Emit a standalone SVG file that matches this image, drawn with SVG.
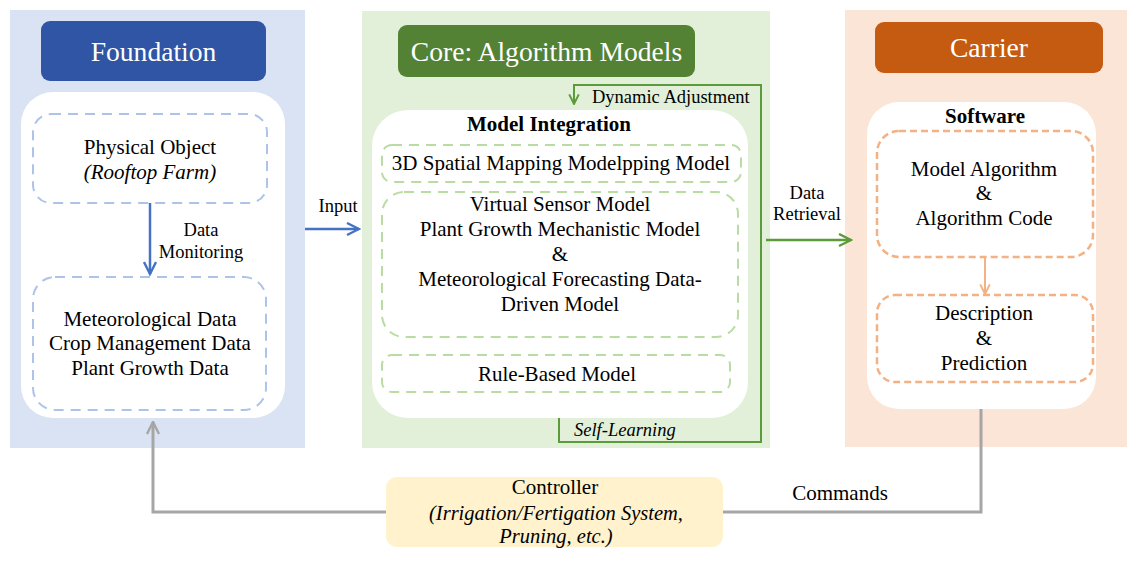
<svg xmlns="http://www.w3.org/2000/svg" width="1136" height="561" viewBox="0 0 1136 561" font-family="'Liberation Serif', 'DejaVu Serif', serif">
<defs>
<style>
text{font-family:'Liberation Serif','DejaVu Serif',serif;fill:#000;text-anchor:middle}
.hd{font-size:27.6px;fill:#fff}
.t{font-size:21px}
.l{font-size:18.5px}
.c{font-size:21px}
.ci{font-size:20.5px;font-style:italic}
.b{font-size:21px;font-weight:bold}
.i{font-style:italic}
.white{fill:#fff}
.dB{fill:none;stroke:#adc3ea;stroke-width:2;stroke-dasharray:10 7}
.dG{fill:none;stroke:#b9dca3;stroke-width:2;stroke-dasharray:10 7}
.dO{fill:none;stroke:#f4b183;stroke-width:2.5;stroke-dasharray:7 4}
</style>
<marker id="aBlue" viewBox="0 0 10 10" refX="9" refY="5" markerWidth="6" markerHeight="6" orient="auto" markerUnits="strokeWidth"><path d="M1,1 L9,5 L1,9" fill="none" stroke="#4472c4" stroke-width="1.6"/></marker>
<marker id="aGreen" viewBox="0 0 10 10" refX="9" refY="5" markerWidth="6" markerHeight="6" orient="auto" markerUnits="strokeWidth"><path d="M1,1 L9,5 L1,9" fill="none" stroke="#5b9b3b" stroke-width="1.6"/></marker>
<marker id="aOrange" viewBox="0 0 10 10" refX="9" refY="5" markerWidth="6" markerHeight="6" orient="auto" markerUnits="strokeWidth"><path d="M1,1 L9,5 L1,9" fill="none" stroke="#f4b183" stroke-width="1.6"/></marker>
<marker id="aGray" viewBox="0 0 10 10" refX="9" refY="5" markerWidth="5" markerHeight="5" orient="auto" markerUnits="strokeWidth"><path d="M1,1 L9,5 L1,9" fill="none" stroke="#a6a6a6" stroke-width="1.6"/></marker>
</defs>
<rect width="1136" height="561" fill="#fff"/>

<g id="foundation">
<rect x="10" y="10" width="295" height="438" fill="#dae3f3"/>
<rect x="41" y="21" width="225" height="60" rx="9" fill="#2f55a4"/>
<text class="hd" x="153.5" y="61">Foundation</text>
<rect class="white" x="21" y="92" width="264" height="326" rx="32"/>
</g>
<g id="physical-object">
<rect class="dB" x="33" y="114" width="234" height="89" rx="18"/>
<text class="t" x="150" y="154">Physical Object</text>
<text class="t i" x="150" y="179">(Rooftop Farm)</text>
</g>
<g id="data">
<rect class="dB" x="33" y="277" width="233" height="133" rx="22"/>
<text class="t" x="150" y="326">Meteorological Data</text>
<text class="t" x="150" y="350">Crop Management Data</text>
<text class="t" x="150" y="375">Plant Growth Data</text>
</g>

<g id="core">
<rect x="362" y="11" width="408" height="437" fill="#e2f0d9"/>
<rect x="398" y="25" width="297" height="52" rx="9" fill="#548235"/>
<text class="hd" x="546.5" y="61">Core: Algorithm Models</text>
<rect class="white" x="372" y="110" width="376" height="308" rx="36"/>
<text class="b" x="549" y="131">Model Integration</text>
</g>
<g id="spatial-model">
<rect class="dG" x="382" y="145" width="359" height="37" rx="10"/>
<text class="t" x="561" y="170">3D Spatial Mapping Modelpping Model</text>
</g>
<g id="sensor-model">
<rect class="dG" x="382" y="192" width="356" height="145" rx="22"/>
<text class="t" x="560" y="211">Virtual Sensor Model</text>
<text class="t" x="560" y="236">Plant Growth Mechanistic Model</text>
<text class="t" x="560" y="261">&amp;</text>
<text class="t" x="560" y="286">Meteorological Forecasting Data-</text>
<text class="t" x="560" y="311">Driven Model</text>
</g>
<g id="rule-model">
<rect class="dG" x="382" y="355" width="348" height="37" rx="10"/>
<text class="t" x="557" y="381">Rule-Based Model</text>
</g>

<g id="carrier">
<rect x="845" y="10" width="282" height="437" fill="#fbe5d6"/>
<rect x="875" y="22" width="228" height="51" rx="9" fill="#c55a11"/>
<text class="hd" x="989" y="57">Carrier</text>
<rect class="white" x="867" y="102" width="229" height="307" rx="32"/>
<text class="b" x="985" y="123">Software</text>
</g>
<g id="model-algorithm">
<rect class="dO" x="877" y="131" width="216" height="126" rx="22"/>
<text class="t" x="984" y="176">Model Algorithm</text>
<text class="t" x="984" y="200">&amp;</text>
<text class="t" x="984" y="225">Algorithm Code</text>
</g>
<g id="description">
<rect class="dO" x="877" y="295" width="216" height="87" rx="18"/>
<text class="t" x="984" y="320">Description</text>
<text class="t" x="984" y="345">&amp;</text>
<text class="t" x="984" y="370">Prediction</text>
</g>

<g id="controller">
<rect x="386" y="477" width="337" height="70" rx="11" fill="#fff2cc"/>
<text class="c" x="555" y="494">Controller</text>
<text class="ci" x="556" y="520">(Irrigation/Fertigation System,</text>
<text class="ci" x="556" y="543">Pruning, etc.)</text>
</g>

<g id="connectors" fill="none">
<path d="M150 203 V274" stroke="#4472c4" stroke-width="2.5" marker-end="url(#aBlue)"/>
<path d="M305 229 H359" stroke="#4472c4" stroke-width="2.5" marker-end="url(#aBlue)"/>
<path d="M559 418 V442 H761 V85 H574 V104" stroke="#5b9b3b" stroke-width="2" marker-end="url(#aGreen)"/>
<path d="M766 240 H851" stroke="#5b9b3b" stroke-width="2.5" marker-end="url(#aGreen)"/>
<path d="M985 257 V294" stroke="#f4b183" stroke-width="2" marker-end="url(#aOrange)"/>
<path d="M981 409 V512 H723" stroke="#a6a6a6" stroke-width="3"/>
<path d="M386 512 H153 V422" stroke="#a6a6a6" stroke-width="3" marker-end="url(#aGray)"/>
<text class="l" x="201" y="236">Data</text>
<text class="l" x="201" y="258">Monitoring</text>
<text class="l" x="338" y="212">Input</text>
<text class="l" x="592" y="103" style="text-anchor:start">Dynamic Adjustment</text>
<text class="l i" x="574" y="436" style="text-anchor:start">Self-Learning</text>
<text class="l" x="807" y="199">Data</text>
<text class="l" x="807" y="220">Retrieval</text>
<text class="c" x="840" y="500">Commands</text>
</g>
</svg>
